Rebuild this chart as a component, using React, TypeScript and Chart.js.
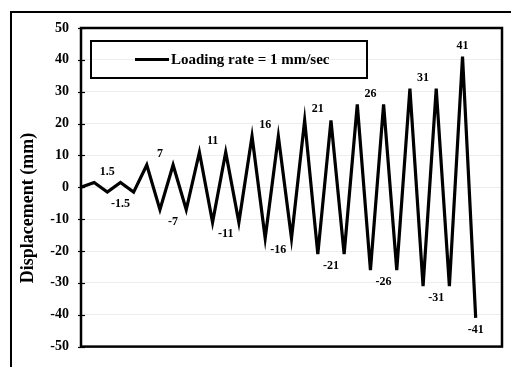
import React, { useEffect, useRef } from "react";
import { Chart, registerables } from "chart.js";

Chart.register(...registerables);

// Displacement peaks of the cyclic loading protocol, one entry per half-cycle turn (mm)
const displacementPeaks: number[] = [
  0, 1.5, -1.5, 1.5, -1.5, 7, -7, 7, -7, 11, -11, 11, -11, 16, -16, 16, -16,
  21, -21, 21, -21, 26, -26, 26, -26, 31, -31, 31, -31, 41, -41,
];

// Amplitudes annotated on the chart
const annotatedAmplitudes: number[] = [
  1.5, -1.5, 7, -7, 11, -11, 16, -16, 21, -21, 26, -26, 31, -31, 41, -41,
];

const yTicks: number[] = [-50, -40, -30, -20, -10, 0, 10, 20, 30, 40, 50];

const seriesLabel = "Loading rate = 1 mm/sec";
const yAxisTitle = "Displacement (mm)";

const SERIF = "'Liberation Serif', 'Times New Roman', serif";

const framePlugin = {
  id: "frame",
  beforeDraw(chart: any) {
    const ctx = chart.ctx;
    ctx.save();
    ctx.fillStyle = "#ffffff";
    ctx.fillRect(0, 0, chart.width, chart.height);
    ctx.strokeStyle = "#000";
    ctx.lineWidth = 2;
    ctx.strokeRect(11, 12, chart.width + 20, chart.height + 20);
    ctx.restore();
  },
  afterDraw(chart: any) {
    const { ctx, chartArea } = chart;
    const ys = chart.scales.y;
    ctx.save();
    // plot border
    ctx.strokeStyle = "#000";
    ctx.lineWidth = 2.5;
    ctx.strokeRect(
      chartArea.left,
      chartArea.top,
      chartArea.right - chartArea.left,
      chartArea.bottom - chartArea.top
    );
    // cross tick marks on the value axis
    ctx.lineWidth = 1.2;
    yTicks.forEach((t) => {
      const py = Math.round(ys.getPixelForValue(t)) + 0.5;
      ctx.beginPath();
      ctx.moveTo(chartArea.left - 3, py);
      ctx.lineTo(chartArea.left + 4, py);
      ctx.stroke();
    });

    // axis title
    ctx.fillStyle = "#000";
    ctx.font = `bold 18px ${SERIF}`;
    ctx.textAlign = "center";
    ctx.textBaseline = "middle";
    ctx.translate(28, 208);
    ctx.rotate(-Math.PI / 2);
    ctx.fillText(yAxisTitle, 0, 0);
    ctx.restore();

    // legend box
    ctx.save();
    ctx.strokeStyle = "#000";
    ctx.lineWidth = 2;
    ctx.strokeRect(91, 41, 276, 37);
    ctx.lineWidth = 3;
    ctx.beginPath();
    ctx.moveTo(135, 59.5);
    ctx.lineTo(169, 59.5);
    ctx.stroke();
    ctx.fillStyle = "#000";
    ctx.font = `bold 15px ${SERIF}`;
    ctx.textAlign = "left";
    ctx.textBaseline = "middle";
    ctx.fillText(chart.data.datasets[0].label, 171, 60);
    ctx.restore();

    // amplitude annotations, centred between the repeated peaks
    const xs = chart.scales.x;
    ctx.save();
    ctx.fillStyle = "#000";
    ctx.font = `bold 12px ${SERIF}`;
    ctx.textAlign = "center";
    ctx.textBaseline = "middle";
    annotatedAmplitudes.forEach((v) => {
      const idx: number[] = [];
      displacementPeaks.forEach((p, i) => {
        if (p === v) idx.push(i);
      });
      const mid = (idx[0] + idx[idx.length - 1]) / 2;
      const px = xs.getPixelForValue(mid);
      const py = ys.getPixelForValue(v) + (v > 0 ? -11 : 12);
      ctx.fillText(String(v), px, py);
    });
    ctx.restore();
  },
};

export default function App() {
  const canvasRef = useRef<HTMLCanvasElement | null>(null);

  useEffect(() => {
    document.body.style.margin = "0";
    const canvas = canvasRef.current;
    if (!canvas) return;
    const chart = new Chart(canvas, {
      type: "line",
      data: {
        datasets: [
          {
            label: seriesLabel,
            data: displacementPeaks.map((v, i) => ({ x: i, y: v })),
            borderColor: "#000",
            borderWidth: 3.2,
            pointRadius: 0,
            tension: 0,
            fill: false,
          },
        ],
      },
      options: {
        responsive: false,
        animation: false,
        devicePixelRatio: 1,
        layout: { padding: { left: 0, top: 28, right: 9, bottom: 8 } },
        plugins: {
          legend: { display: false },
          tooltip: { enabled: false },
        },
        scales: {
          x: {
            type: "linear",
            min: 0,
            max: 32,
            display: false,
          },
          y: {
            min: -50,
            max: 50,
            afterFit: (s: any) => {
              s.width = 81;
            },
            afterBuildTicks: (s: any) => {
              s.ticks = yTicks.map((v) => ({ value: v }));
            },
            ticks: {
              color: "#000",
              padding: 12,
              font: { family: SERIF, size: 14, weight: "bold" },
            },
            grid: {
              color: "rgba(0,0,0,0.07)",
              drawTicks: false,
            },
            border: { display: false },
          },
        },
      },
      plugins: [framePlugin],
    });
    return () => chart.destroy();
  }, []);

  return (
    <div style={{ width: 511, height: 367 }}>
      <canvas ref={canvasRef} width={511} height={367} />
    </div>
  );
}
